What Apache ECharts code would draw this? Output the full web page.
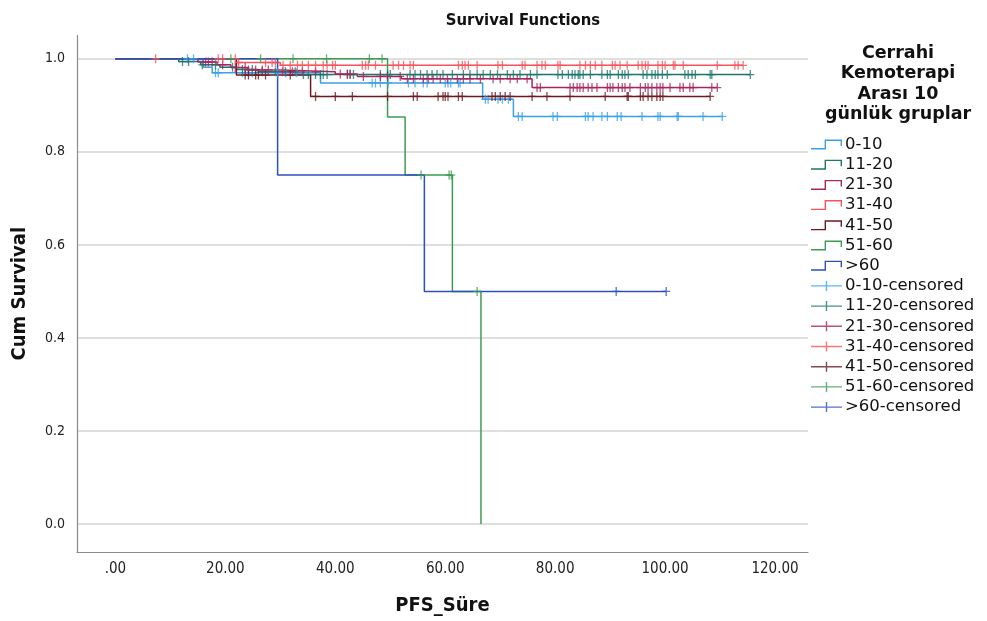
<!DOCTYPE html>
<html>
<head>
<meta charset="utf-8">
<script src="https://cdn.jsdelivr.net/npm/echarts@6/dist/echarts.min.js"></script>
<style>
  html, body { margin: 0; padding: 0; background: #fff; }
  #chart { width: 987px; height: 621px; }
</style>
</head>
<body>
<div id="chart"></div>
<script>
// Kaplan-Meier survival data per group: event times, survival after each event, censored times
const groups = ['0-10', '11-20', '21-30', '31-40', '41-50', '51-60', '>60'];

const evt_0_10 = [16.0, 17.6, 37.3, 66.8, 72.4];
const surv_0_10 = [0.982, 0.970, 0.948, 0.913, 0.876];
const cens_0_10 = [13.1, 14.2, 18.2, 18.7, 23.1, 24.2, 24.9, 29.5, 31.0, 33.0, 46.7, 47.3, 48.2, 49.6, 53.3, 54.5, 56.0, 56.7, 60.0, 60.5, 61.0, 62.4, 62.7, 67.3, 67.8, 69.6, 70.4, 71.5, 73.3, 74.0, 79.6, 80.4, 85.5, 86.0, 86.9, 88.5, 89.5, 91.3, 92.0, 95.8, 98.7, 99.1, 102.2, 102.4, 106.9, 110.4];

const evt_11_20 = [11.5, 15.5, 19.0, 22.0, 26.0, 33.0];
const surv_11_20 = [0.994, 0.987, 0.982, 0.977, 0.972, 0.966];
const cens_11_20 = [12.2, 13.3, 15.8, 18.2, 21.3, 23.1, 24.9, 26.7, 29.1, 30.9, 32.7, 34.2, 35.1, 36.4, 37.3, 37.8, 38.5, 42.2, 42.7, 43.3, 48.2, 49.5, 50.0, 53.6, 54.5, 55.5, 56.7, 57.6, 58.5, 59.6, 61.3, 63.3, 64.5, 65.8, 66.9, 68.2, 69.5, 71.3, 72.4, 73.6, 75.5, 76.7, 80.5, 81.3, 82.4, 83.1, 83.6, 84.2, 84.5, 85.1, 86.4, 88.5, 89.5, 90.0, 91.5, 92.2, 92.7, 93.3, 96.0, 96.7, 97.6, 98.2, 98.7, 99.5, 100.4, 103.6, 104.2, 104.9, 105.5, 108.2, 108.5, 115.5];

const evt_21_30 = [15.0, 18.5, 21.0, 24.0, 30.0, 40.0, 44.0, 52.0, 75.8];
const surv_21_30 = [0.993, 0.987, 0.981, 0.976, 0.972, 0.967, 0.962, 0.957, 0.938];
const cens_21_30 = [16.4, 16.9, 17.6, 19.5, 21.8, 23.6, 24.2, 25.5, 26.7, 27.8, 30.4, 32.2, 34.0, 36.4, 40.9, 42.2, 42.7, 45.1, 48.2, 49.5, 51.8, 53.1, 54.2, 56.0, 56.9, 57.8, 59.1, 60.4, 62.2, 63.3, 64.5, 66.4, 68.7, 70.0, 71.8, 73.1, 74.9, 76.7, 77.3, 82.7, 83.3, 84.0, 84.5, 85.1, 86.0, 86.7, 87.6, 89.5, 90.0, 90.5, 91.5, 92.2, 92.7, 93.6, 95.5, 96.4, 96.9, 97.6, 98.5, 99.1, 99.6, 100.9, 102.7, 103.3, 104.5, 105.1, 108.5, 109.5];

const evt_31_40 = [22.0, 30.0];
const surv_31_40 = [0.992, 0.986];
const cens_31_40 = [7.3, 18.7, 19.5, 21.8, 22.4, 27.3, 28.5, 29.1, 30.5, 31.8, 33.1, 34.0, 35.1, 36.4, 37.8, 38.5, 39.5, 40.0, 44.9, 45.5, 46.0, 47.3, 50.5, 51.5, 52.4, 53.6, 54.2, 62.4, 63.1, 63.6, 64.2, 65.8, 69.6, 70.4, 74.0, 74.5, 76.7, 77.6, 78.2, 80.5, 80.9, 84.5, 85.5, 86.4, 87.3, 88.5, 90.4, 90.9, 91.8, 93.1, 95.1, 95.8, 96.4, 96.9, 98.7, 99.5, 100.0, 101.5, 101.8, 103.3, 109.5, 112.7, 113.3, 114.2];

const evt_41_50 = [22.0, 35.5];
const surv_41_50 = [0.965, 0.919];
const cens_41_50 = [23.6, 24.2, 25.5, 26.0, 27.3, 31.8, 36.4, 40.0, 43.1, 49.5, 54.2, 54.9, 58.7, 59.6, 60.0, 60.5, 62.4, 63.1, 68.5, 69.1, 70.0, 70.9, 71.8, 75.8, 78.5, 82.7, 89.1, 93.1, 93.3, 95.5, 96.0, 96.9, 97.6, 98.5, 99.1, 99.6, 108.2];

const evt_51_60 = [49.5, 52.7, 61.3, 66.5];
const surv_51_60 = [0.875, 0.75, 0.5, 0.0];
const cens_51_60 = [21.0, 26.4, 32.3, 38.4, 46.2, 48.5, 55.6, 60.7, 61.1, 65.8];

const evt_60p = [29.5, 56.2];
const surv_60p = [0.75, 0.5];
const cens_60p = [91.1, 100.2];

const xTicks = [0, 20, 40, 60, 80, 100, 120];
const yTicks = [0, 0.2, 0.4, 0.6, 0.8, 1.0];

const groupData = [
  [evt_0_10, surv_0_10, cens_0_10],
  [evt_11_20, surv_11_20, cens_11_20],
  [evt_21_30, surv_21_30, cens_21_30],
  [evt_31_40, surv_31_40, cens_31_40],
  [evt_41_50, surv_41_50, cens_41_50],
  [evt_51_60, surv_51_60, cens_51_60],
  [evt_60p, surv_60p, cens_60p]
];

const palette = ['#3ba0ea', '#1d766a', '#a8265f', '#f4545c', '#6d1921', '#3e9b52', '#2c4fbe'];

// survival estimate at time t (right-continuous step)
function survAt(evts, surv, t) {
  let s = 1;
  for (let i = 0; i < evts.length; i++) {
    if (evts[i] <= t) s = surv[i];
  }
  return s;
}

function stepLine(evts, surv, cens) {
  const pts = [[0, 1]];
  evts.forEach((t, i) => pts.push([t, surv[i]]));
  const lastEvt = evts[evts.length - 1];
  const lastCens = cens.length ? Math.max.apply(null, cens) : 0;
  if (lastCens > lastEvt) pts.push([lastCens, survAt(evts, surv, lastCens)]);
  return pts;
}

const condensed = '"Liberation Sans Narrow", "DejaVu Sans Condensed", "Arial Narrow", sans-serif';
// thin filled outlines so icons render as strokes
const stepIcon = 'path://M0,8.6 L13.6,8.6 L13.6,0 L31,0 L31,6.5 L29.6,6.5 L29.6,1.4 L15,1.4 L15,10 L0,10 Z';
const crossIcon = 'path://M0,4.3 L14.8,4.3 L14.8,0 L16.2,0 L16.2,4.3 L31,4.3 L31,5.7 L16.2,5.7 L16.2,10 L14.8,10 L14.8,5.7 L0,5.7 Z';
const markPath = 'path://M0,3.85 L3.35,3.85 L3.35,0 L4.65,0 L4.65,3.85 L8,3.85 L8,5.15 L4.65,5.15 L4.65,9 L3.35,9 L3.35,5.15 L0,5.15 Z';

const series = [];
const legendData = [];

groups.forEach((g, i) => {
  const [evts, surv, cens] = groupData[i];
  series.push({
    name: g,
    type: 'line',
    step: 'end',
    showSymbol: false,
    symbol: 'none',
    data: stepLine(evts, surv, cens),
    lineStyle: { color: palette[i], width: 1.5 },
    itemStyle: { color: palette[i] },
    z: 2 + i
  });
  legendData.push({ name: g, icon: stepIcon, itemStyle: { color: palette[i], borderWidth: 0 } });
});

groups.forEach((g, i) => {
  const [evts, surv, cens] = groupData[i];
  series.push({
    name: g + '-censored',
    type: 'scatter',
    symbol: markPath,
    symbolSize: [8, 9],
    symbolKeepAspect: false,
    data: cens.map(t => [t, survAt(evts, surv, t)]),
    itemStyle: { color: palette[i], borderWidth: 0 },
    z: 10 + i
  });
  legendData.push({ name: g + '-censored', icon: crossIcon, itemStyle: { color: palette[i], borderWidth: 0 } });
});

const chart = echarts.init(document.getElementById('chart'), null, { renderer: 'canvas' });
chart.setOption({
  animation: false,
  backgroundColor: '#ffffff',
  title: [
    {
      text: 'Survival Functions',
      left: 518, top: 7, textAlign: 'center',
      textStyle: { fontFamily: condensed, fontWeight: 'bold', fontSize: 16.5, color: '#111' }
    },
    {
      text: 'Cerrahi\nKemoterapi\nArası 10\ngünlük gruplar',
      left: 893, top: 38, textAlign: 'center',
      textStyle: { fontFamily: '"DejaVu Sans", sans-serif', fontWeight: 'bold', fontSize: 17.5, lineHeight: 20.5, color: '#111' }
    }
  ],
  legend: {
    orient: 'vertical',
    left: 811, top: 136,
    padding: 0,
    itemWidth: 31, itemHeight: 10,
    itemGap: 3.2,
    symbolKeepAspect: false,
    selectedMode: false,
    data: legendData,
    textStyle: { fontFamily: '"DejaVu Sans", sans-serif', fontSize: 16.5, color: '#111', padding: [0, 0, 0, -2] }
  },
  grid: { left: 77, right: 179, top: 35.5, bottom: 65, containLabel: false },
  xAxis: {
    type: 'value',
    min: -7, max: 126,
    name: 'PFS_Süre',
    nameLocation: 'middle',
    nameGap: 44,
    nameTextStyle: { fontFamily: condensed, fontWeight: 'bold', fontSize: 20, color: '#111' },
    axisLine: { show: true, onZero: false, lineStyle: { color: '#8a8a8a', width: 1.2 } },
    axisTick: { show: false, customValues: xTicks },
    splitLine: { show: false },
    axisLabel: {
      customValues: xTicks,
      margin: 10,
      fontFamily: condensed, fontSize: 15, color: '#222',
      formatter: v => (v === 0 ? '.00' : v.toFixed(2))
    }
  },
  yAxis: {
    type: 'value',
    min: -0.06, max: 1.05,
    name: 'Cum Survival',
    nameLocation: 'middle',
    nameGap: 47,
    nameRotate: 90,
    nameTextStyle: { fontFamily: condensed, fontWeight: 'bold', fontSize: 20, color: '#111' },
    axisLine: { show: true, onZero: false, lineStyle: { color: '#8a8a8a', width: 1.2 } },
    axisTick: { show: false, customValues: yTicks },
    splitLine: { show: true, lineStyle: { color: '#d4d4d4', width: 1.5 } },
    axisLabel: {
      customValues: yTicks,
      margin: 12,
      fontFamily: condensed, fontSize: 14, color: '#222',
      formatter: v => v.toFixed(1)
    }
  },
  series: series
});
</script>
</body>
</html>
